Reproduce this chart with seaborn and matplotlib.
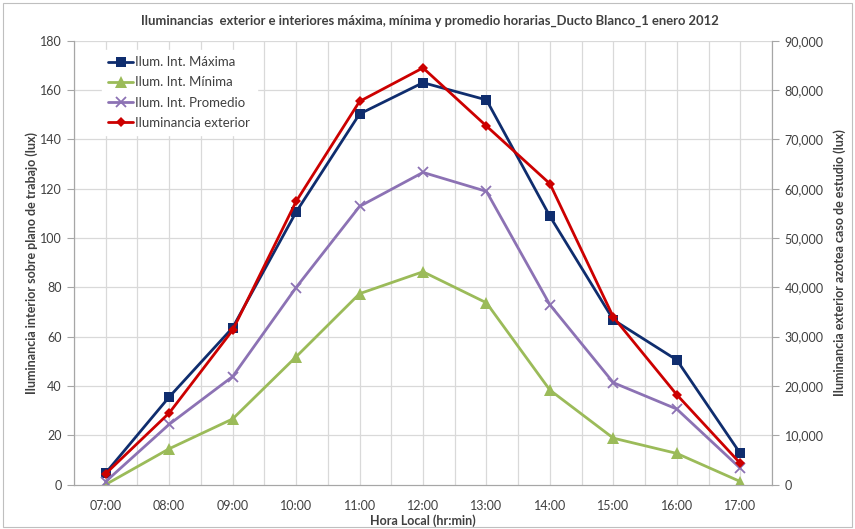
import matplotlib
matplotlib.use("Agg")
import matplotlib.pyplot as plt
import seaborn as sns
import pandas as pd
from matplotlib.patches import Rectangle
from matplotlib.ticker import FuncFormatter, MultipleLocator

horas = ["07:00", "08:00", "09:00", "10:00", "11:00", "12:00",
         "13:00", "14:00", "15:00", "16:00", "17:00"]
ilum_maxima = [4.7, 35.5, 63.6, 110.5, 150.3, 163.0, 156.0, 108.8, 66.8, 50.5, 12.6]
ilum_minima = [0.0, 14.5, 26.6, 51.8, 77.4, 86.3, 73.7, 38.3, 18.8, 12.6, 1.2]
ilum_promedio = [1.2, 24.4, 43.8, 79.9, 112.8, 126.6, 118.9, 72.9, 41.3, 30.6, 6.6]
ilum_exterior = [2200, 14500, 31300, 57400, 77700, 84500, 72700, 61000, 33950, 18200, 4300]

sns.set_theme(style="white")
plt.rcParams["font.family"] = ["Lato", "DejaVu Sans"]

pos = list(range(len(horas)))
df = pd.DataFrame({
    "pos": pos,
    "Ilum. Int. Máxima": ilum_maxima,
    "Ilum. Int. Mínima": ilum_minima,
    "Ilum. Int. Promedio": ilum_promedio,
    "Iluminancia exterior": ilum_exterior,
})

fig = plt.figure(figsize=(8.55, 5.29), dpi=100)
fig.patches.append(Rectangle((0.004, 0.004), 0.992, 0.990, transform=fig.transFigure,
                             fill=False, edgecolor="#BFBFBF", linewidth=0.8))
ax = fig.add_axes([74 / 855, 1 - 484.5 / 529, (772 - 74) / 855, (484.5 - 40.75) / 529])
ax2 = ax.twinx()

grid_c = "#D9D9D9"
axis_c = "#A6A6A6"
text_c = "#404040"

series_left = [
    ("Ilum. Int. Máxima", "#0F2D6E", "s", 7.5, 0),
    ("Ilum. Int. Mínima", "#9BBB59", "^", 8, 0),
    ("Ilum. Int. Promedio", "#8C72B4", "x", 7, 1.3),
]
for name, col, mk, ms, mew in series_left:
    sns.lineplot(data=df, x="pos", y=name, ax=ax, color=col, marker=mk, markersize=ms,
                 markeredgewidth=mew, markeredgecolor=col,
                 linewidth=2.0, label=name, legend=False, zorder=3)

sns.lineplot(data=df, x="pos", y="Iluminancia exterior", ax=ax2, color="#CC0000",
             marker="D", markersize=5.5, markeredgewidth=0, linewidth=2.0,
             label="Iluminancia exterior", legend=False, zorder=4)

ax.set_xlim(-0.5, len(horas) - 0.5)
ax.set_ylim(0, 180)
ax2.set_ylim(0, 90000)
ax.yaxis.set_major_locator(MultipleLocator(20))
ax2.yaxis.set_major_locator(MultipleLocator(10000))
ax2.yaxis.set_major_formatter(FuncFormatter(lambda v, p: f"{int(v):,}"))

ax.set_xticks(pos)
ax.set_xticklabels(horas)
ax.set_xticks([p - 0.5 for p in pos] + [len(horas) - 0.5], minor=True)

# gridlines: horizontal every 20, vertical at categories and their boundaries
for y in range(20, 181, 20):
    ax.axhline(y, color=grid_c, linewidth=0.9, zorder=0)
for i in range(2 * len(horas) + 1):
    ax.axvline(-0.5 + i * 0.5, color=grid_c, linewidth=0.9, zorder=0)

ax.tick_params(axis="x", which="major", length=0, pad=11, labelsize=9, colors=text_c)
ax.tick_params(axis="x", which="minor", length=5, width=0.8, color=axis_c, direction="out")
ax.tick_params(axis="y", length=5, width=0.8, color=axis_c, direction="out",
               labelsize=9, colors=text_c, left=True, pad=4)
ax2.tick_params(axis="y", length=5, width=0.8, color=axis_c, direction="out",
                labelsize=9, colors=text_c, right=True, pad=4)
for a in (ax, ax2):
    a.spines["top"].set_visible(False)
    for s in ("left", "right", "bottom"):
        a.spines[s].set_color(axis_c)
        a.spines[s].set_linewidth(0.8)
for lab in ax.get_xticklabels():
    lab.set_color(text_c)

ax.set_xlabel("Hora Local (hr:min)", fontsize=9, fontweight="bold", color=text_c, labelpad=2)
ax.set_ylabel("Iluminancia interior sobre plano de trabajo (lux)", fontsize=9,
              fontweight="bold", color=text_c, labelpad=1)
ax2.set_ylabel("Iluminancia exterior azotea caso de estudio (lux)", fontsize=9,
               fontweight="bold", color=text_c, labelpad=7)

fig.text(0.503, 0.960,
         "Iluminancias  exterior e interiores máxima, mínima y promedio horarias_Ducto Blanco_1 enero 2012",
         ha="center", va="center", fontsize=9.4, fontweight="bold", color=text_c)

h1, l1 = ax.get_legend_handles_labels()
h2, l2 = ax2.get_legend_handles_labels()
leg = ax2.legend(h1 + h2, l1 + l2, loc="upper left", bbox_to_anchor=(0.03, 0.995),
                 frameon=True, fontsize=9.5, handlelength=1.9, labelspacing=0.62,
                 handletextpad=0.15, borderpad=0.5)
leg.get_frame().set_facecolor("white")
leg.get_frame().set_edgecolor("white")
leg.get_frame().set_alpha(1)
for t in leg.get_texts():
    t.set_color(text_c)

ax.set_zorder(ax2.get_zorder() - 1)
ax2.patch.set_visible(False)

fig.savefig("out.png", dpi=100)
